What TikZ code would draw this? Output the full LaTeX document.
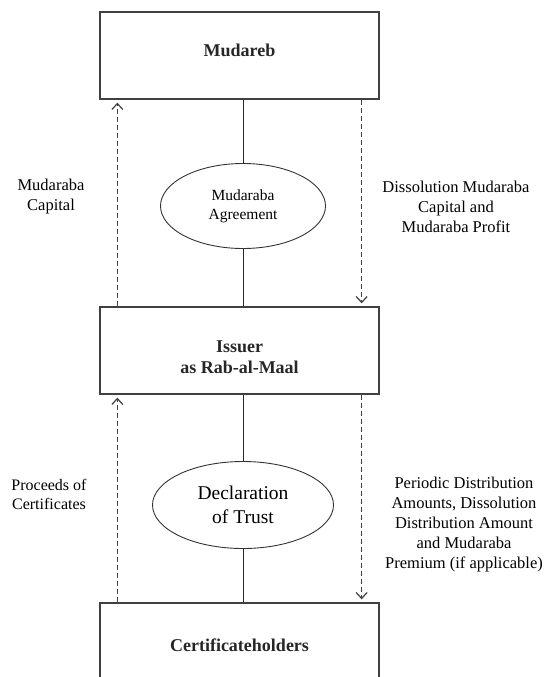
\documentclass[tikz,border=0pt]{standalone}
\usepackage{fontspec}
\setmainfont{Liberation Serif}
\usetikzlibrary{arrows.meta}
\usetikzlibrary{shapes.geometric}

\begin{document}
\begin{tikzpicture}[x=1pt,y=-1pt,>={Straight Barb[length=6pt,width=11pt]},
    main node/.style={rectangle,draw=black!75,line width=1.3pt,minimum width=279pt,minimum height=87pt,inner sep=0pt},
    box text/.style={align=center,text=black!85,font=\fontsize{18}{21}\selectfont\bfseries},
    deal node/.style={ellipse,draw=black!80,line width=0.9pt,inner sep=0pt,align=center,text=black},
    flow label/.style={align=center,text=black,font=\fontsize{16.5}{20}\selectfont},
    flow/.style={->,line width=1.2pt,draw=black!75,dash pattern=on 5pt off 3pt,shorten >=3pt}]
    \useasboundingbox (0,0) rectangle (550,677);
    \clip (0,0) rectangle (550,677);

    \node[main node,label={[box text,yshift=5pt]center:Mudareb}] (mud) at (239.5,55.5) {};
    \node[main node,label={[box text,yshift=-7pt]center:Issuer\\as Rab-al-Maal}] (iss) at (239.5,350.5) {};
    \node[main node,label={[box text,yshift=1pt]center:Certificateholders}] (cert) at (239.5,646.5) {};

    \node[deal node,minimum width=165pt,minimum height=85pt,font=\fontsize{15.5}{19}\selectfont] (agr) at (243,206) {Mudaraba\\Agreement};
    \node[deal node,minimum width=181pt,minimum height=87pt,font=\fontsize{19.5}{24}\selectfont] (dot) at (243,505) {Declaration\\of Trust};

    \node[flow label] (capital)  at (51,197)  {Mudaraba\\Capital};
    \node[flow label] (profit)   at (456,207) {Dissolution Mudaraba\\Capital and\\Mudaraba Profit};
    \node[flow label,font=\fontsize{16}{19}\selectfont] (proceeds) at (49,494) {Proceeds of\\Certificates};
    \node[flow label] (periodic) at (464,525) {Periodic Distribution\\Amounts, Dissolution\\Distribution Amount\\and Mudaraba\\Premium (if applicable)};

    \path[draw=black!85,line width=0.9pt]
      (agr.north) edge (agr.north |- mud.south)
      (agr.south) edge (agr.south |- iss.north)
      (dot.north) edge (dot.north |- iss.south)
      (dot.south) edge (dot.south |- cert.north);

    \draw[flow] ([xshift=18pt]iss.north west) -- ([xshift=18pt]mud.south west);
    \draw[flow] ([xshift=-18pt]mud.south east) -- ([xshift=-18pt]iss.north east);
    \draw[flow] ([xshift=18pt]cert.north west) -- ([xshift=18pt]iss.south west);
    \draw[flow] ([xshift=-18pt]iss.south east) -- ([xshift=-18pt]cert.north east);
\end{tikzpicture}
\end{document}
